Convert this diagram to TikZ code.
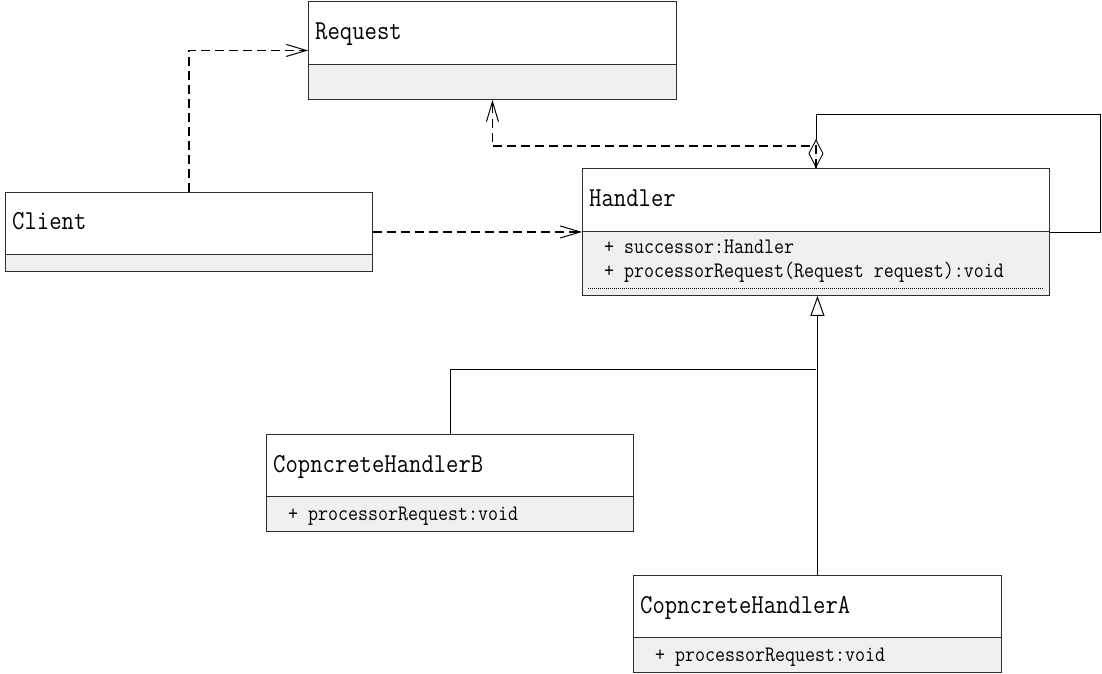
\documentclass[tikz,border=0pt]{standalone}
\usepackage{fontspec}
\usetikzlibrary{arrows.meta}
\definecolor{compfill}{HTML}{F0F0F0}
\definecolor{edge}{HTML}{2E2E2E}
% slightly taller monospace lettering
\newcommand{\tallname}[1]{\scalebox{1}[1.14]{#1}}
\begin{document}
\begin{tikzpicture}[x=1pt,y=-1pt,
  cls/.style={draw=edge, line width=0.9pt, fill=white, rectangle, inner sep=0pt, anchor=north west},
  comp/.style={draw=edge, line width=0.9pt, fill=compfill},
  ttl/.style={font=\ttfamily\fontsize{24}{26}\selectfont, inner sep=0pt, anchor=base west},
  attr/.style={font=\ttfamily\fontsize{19.4}{22}\selectfont, inner sep=0pt, anchor=base west},
  dotline/.style={line width=0.6pt, dash pattern=on 1pt off 1pt},
  dep/.style={draw=black, line width=1.2pt, dash pattern=on 9pt off 5pt,
    -{Straight Barb[length=20pt,width=12pt,line width=1pt]}},
  assoc/.style={draw=black, line width=0.9pt, {Diamond[open,length=29pt,width=15pt,line width=0.9pt]}-},
  genline/.style={draw=black, line width=0.9pt},
  gen/.style={genline, -{Triangle[open,length=20pt,width=14pt,line width=1pt]}}
]
\useasboundingbox (0,0) rectangle (1102,674);

% Request
\node[cls, minimum width=368pt, minimum height=98pt] (req) at (308,1) {};
\draw[comp] (req.south west) rectangle ([yshift=35pt]req.south east);
\node[ttl] (reqn) at ([xshift=7pt,yshift=-39pt]req.north west) {\tallname{Request}};

% Client
\node[cls, minimum width=367pt, minimum height=79pt] (cli) at (5,192) {};
\draw[comp] (cli.south west) rectangle ([yshift=17pt]cli.south east);
\node[ttl] (clin) at ([xshift=7pt,yshift=-37pt]cli.north west) {\tallname{Client}};

% Handler
\node[cls, minimum width=467pt, minimum height=127pt] (hd) at (582,168) {};
\draw[comp] (hd.south west) rectangle ([yshift=64pt]hd.south east);
\node[ttl] (hdn) at ([xshift=7pt,yshift=-38pt]hd.north west) {\tallname{Handler}};
\node[attr] (hda1) at ([xshift=22pt,yshift=-85pt]hd.north west) {\tallname{+ successor:Handler}};
\node[attr] (hda2) at ([xshift=22pt,yshift=-109pt]hd.north west) {\tallname{+ processorRequest(Request request):void}};
\draw[dotline] ([xshift=6pt,yshift=8pt]hd.south west) -- ([xshift=-6pt,yshift=8pt]hd.south east);

% CopncreteHandlerB
\node[cls, minimum width=367pt, minimum height=97pt] (hb) at (266,434) {};
\draw[comp] (hb.south west) rectangle ([yshift=35pt]hb.south east);
\node[ttl] (hbn) at ([xshift=7pt,yshift=-38.5pt]hb.north west) {\tallname{CopncreteHandlerB}};
\node[attr] (hba) at ([xshift=22pt,yshift=-86pt]hb.north west) {\tallname{+ processorRequest:void}};

% CopncreteHandlerA
\node[cls, minimum width=368pt, minimum height=97pt] (ha) at (633,575) {};
\draw[comp] (ha.south west) rectangle ([yshift=35pt]ha.south east);
\node[ttl] (han) at ([xshift=7pt,yshift=-38.5pt]ha.north west) {\tallname{CopncreteHandlerA}};
\node[attr] (haa) at ([xshift=22pt,yshift=-86pt]ha.north west) {\tallname{+ processorRequest:void}};

% dependencies
\draw[dep] (cli.north) |- (req.west);
\draw[dep] (cli.east) -- (hd.west);
\draw[dep] (hd.north) -- ++(0,-22) -| (req.south);

% self association of Handler
\coordinate (lp) at (1100,114);
\draw[assoc] (hd.north) |- (lp) |- (hd.east);

% generalisation
\coordinate (gj) at (816,369);
\draw[genline] (hb.north) |- (gj);
\draw[gen] (ha.north) -- (ha.north |- hd.south);
\end{tikzpicture}
\end{document}
